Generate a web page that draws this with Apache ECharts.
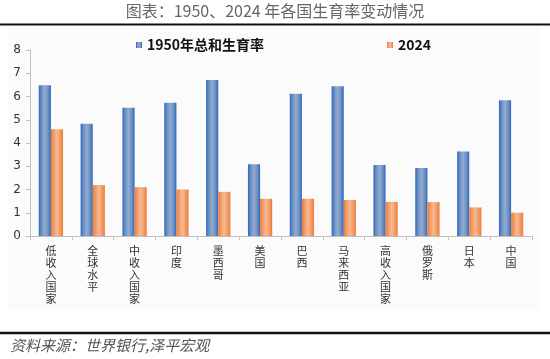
<!DOCTYPE html>
<html><head><meta charset="utf-8">
<script src="https://cdn.jsdelivr.net/npm/echarts@6/dist/echarts.min.js"></script>
<style>html,body{margin:0;padding:0;background:#fff}#c{width:550px;height:359px}</style>
</head><body><div id="c"></div>
<script>
var categories = ['低收入国家','全球水平','中收入国家','印度','墨西哥','美国','巴西','马来西亚','高收入国家','俄罗斯','日本','中国'];
var tfr1950 = [6.48, 4.83, 5.52, 5.73, 6.71, 3.09, 6.12, 6.44, 3.05, 2.93, 3.63, 5.84];
var tfr2024 = [4.59, 2.19, 2.10, 2.00, 1.90, 1.60, 1.60, 1.55, 1.47, 1.46, 1.23, 1.00];
var seriesNames = ['1950年总和生育率', '2024'];
var yTicks = [0, 1, 2, 3, 4, 5, 6, 7, 8];

var cjk = '"Noto Sans CJK SC", "Noto Sans", sans-serif';
function grad(edge, mid, edge2) {
  return new echarts.graphic.LinearGradient(0, 0, 1, 0, [
    {offset: 0, color: edge}, {offset: 0.22, color: edge2}, {offset: 0.5, color: mid},
    {offset: 0.78, color: edge2}, {offset: 1, color: edge}
  ]);
}
var chart = echarts.init(document.getElementById('c'), null, {renderer: 'canvas'});
chart.setOption({
  animation: false,
  backgroundColor: '#ffffff',
  graphic: [
    {type: 'rect', z: -10, shape: {x: 8, y: 28, width: 532, height: 282}, style: {fill: '#fbfbfb'}},
    {type: 'text', left: 'center', top: 3, style: {text: '图表：1950、2024 年各国生育率变动情况', font: '16px ' + cjk, fill: '#666'}},
    {type: 'line', shape: {x1: 0, y1: 24.5, x2: 550, y2: 24.5}, style: {stroke: '#111', lineWidth: 2}},
    {type: 'line', shape: {x1: 0, y1: 333, x2: 550, y2: 333}, style: {stroke: '#111', lineWidth: 2.5}},
    {type: 'text', left: 10, top: 338, style: {text: '资料来源：世界银行,泽平宏观', font: 'italic 15px ' + cjk, fill: '#555'}}
  ],
  legend: [
    {data: [seriesNames[0]], left: 131, top: 33, itemWidth: 6, itemHeight: 6, icon: 'rect',
     textStyle: {fontFamily: cjk, fontWeight: 'bold', fontSize: 14, color: '#111'}, itemGap: 4},
    {data: [seriesNames[1]], left: 382, top: 33, itemWidth: 6, itemHeight: 6, icon: 'rect',
     textStyle: {fontFamily: cjk, fontWeight: 'bold', fontSize: 14, color: '#111'}}
  ],
  grid: {left: 30, right: 18, top: 50, bottom: 123, containLabel: false},
  xAxis: {
    type: 'category', data: categories,
    axisLine: {lineStyle: {color: '#bfbfbf'}},
    axisTick: {show: true, length: 4, lineStyle: {color: '#bfbfbf'}},
    axisLabel: {interval: 0, margin: 9, fontFamily: cjk, fontSize: 11, lineHeight: 12, color: '#333',
      formatter: function (v) { return v.split('').join('\n'); }}
  },
  yAxis: {
    type: 'value', min: 0, max: 8, interval: 1,
    axisLine: {show: true, lineStyle: {color: '#bfbfbf'}},
    axisTick: {show: true, length: 4, lineStyle: {color: '#bfbfbf'}},
    splitLine: {show: false},
    axisLabel: {margin: 9, fontFamily: '"DejaVu Sans", sans-serif', fontSize: 12, color: '#333',
      formatter: function (v) { return yTicks.indexOf(v) >= 0 ? String(v) : ''; }}
  },
  series: [
    {name: seriesNames[0], type: 'bar', data: tfr1950, barGap: '0%', barCategoryGap: '42%',
     itemStyle: {color: grad('#2a66c0', '#93accb', '#6a8fc4')}},
    {name: seriesNames[1], type: 'bar', data: tfr2024, barGap: '0%', barCategoryGap: '42%',
     itemStyle: {color: grad('#ee7a35', '#f6b995', '#f29a62')}}
  ]
});
</script></body></html>
